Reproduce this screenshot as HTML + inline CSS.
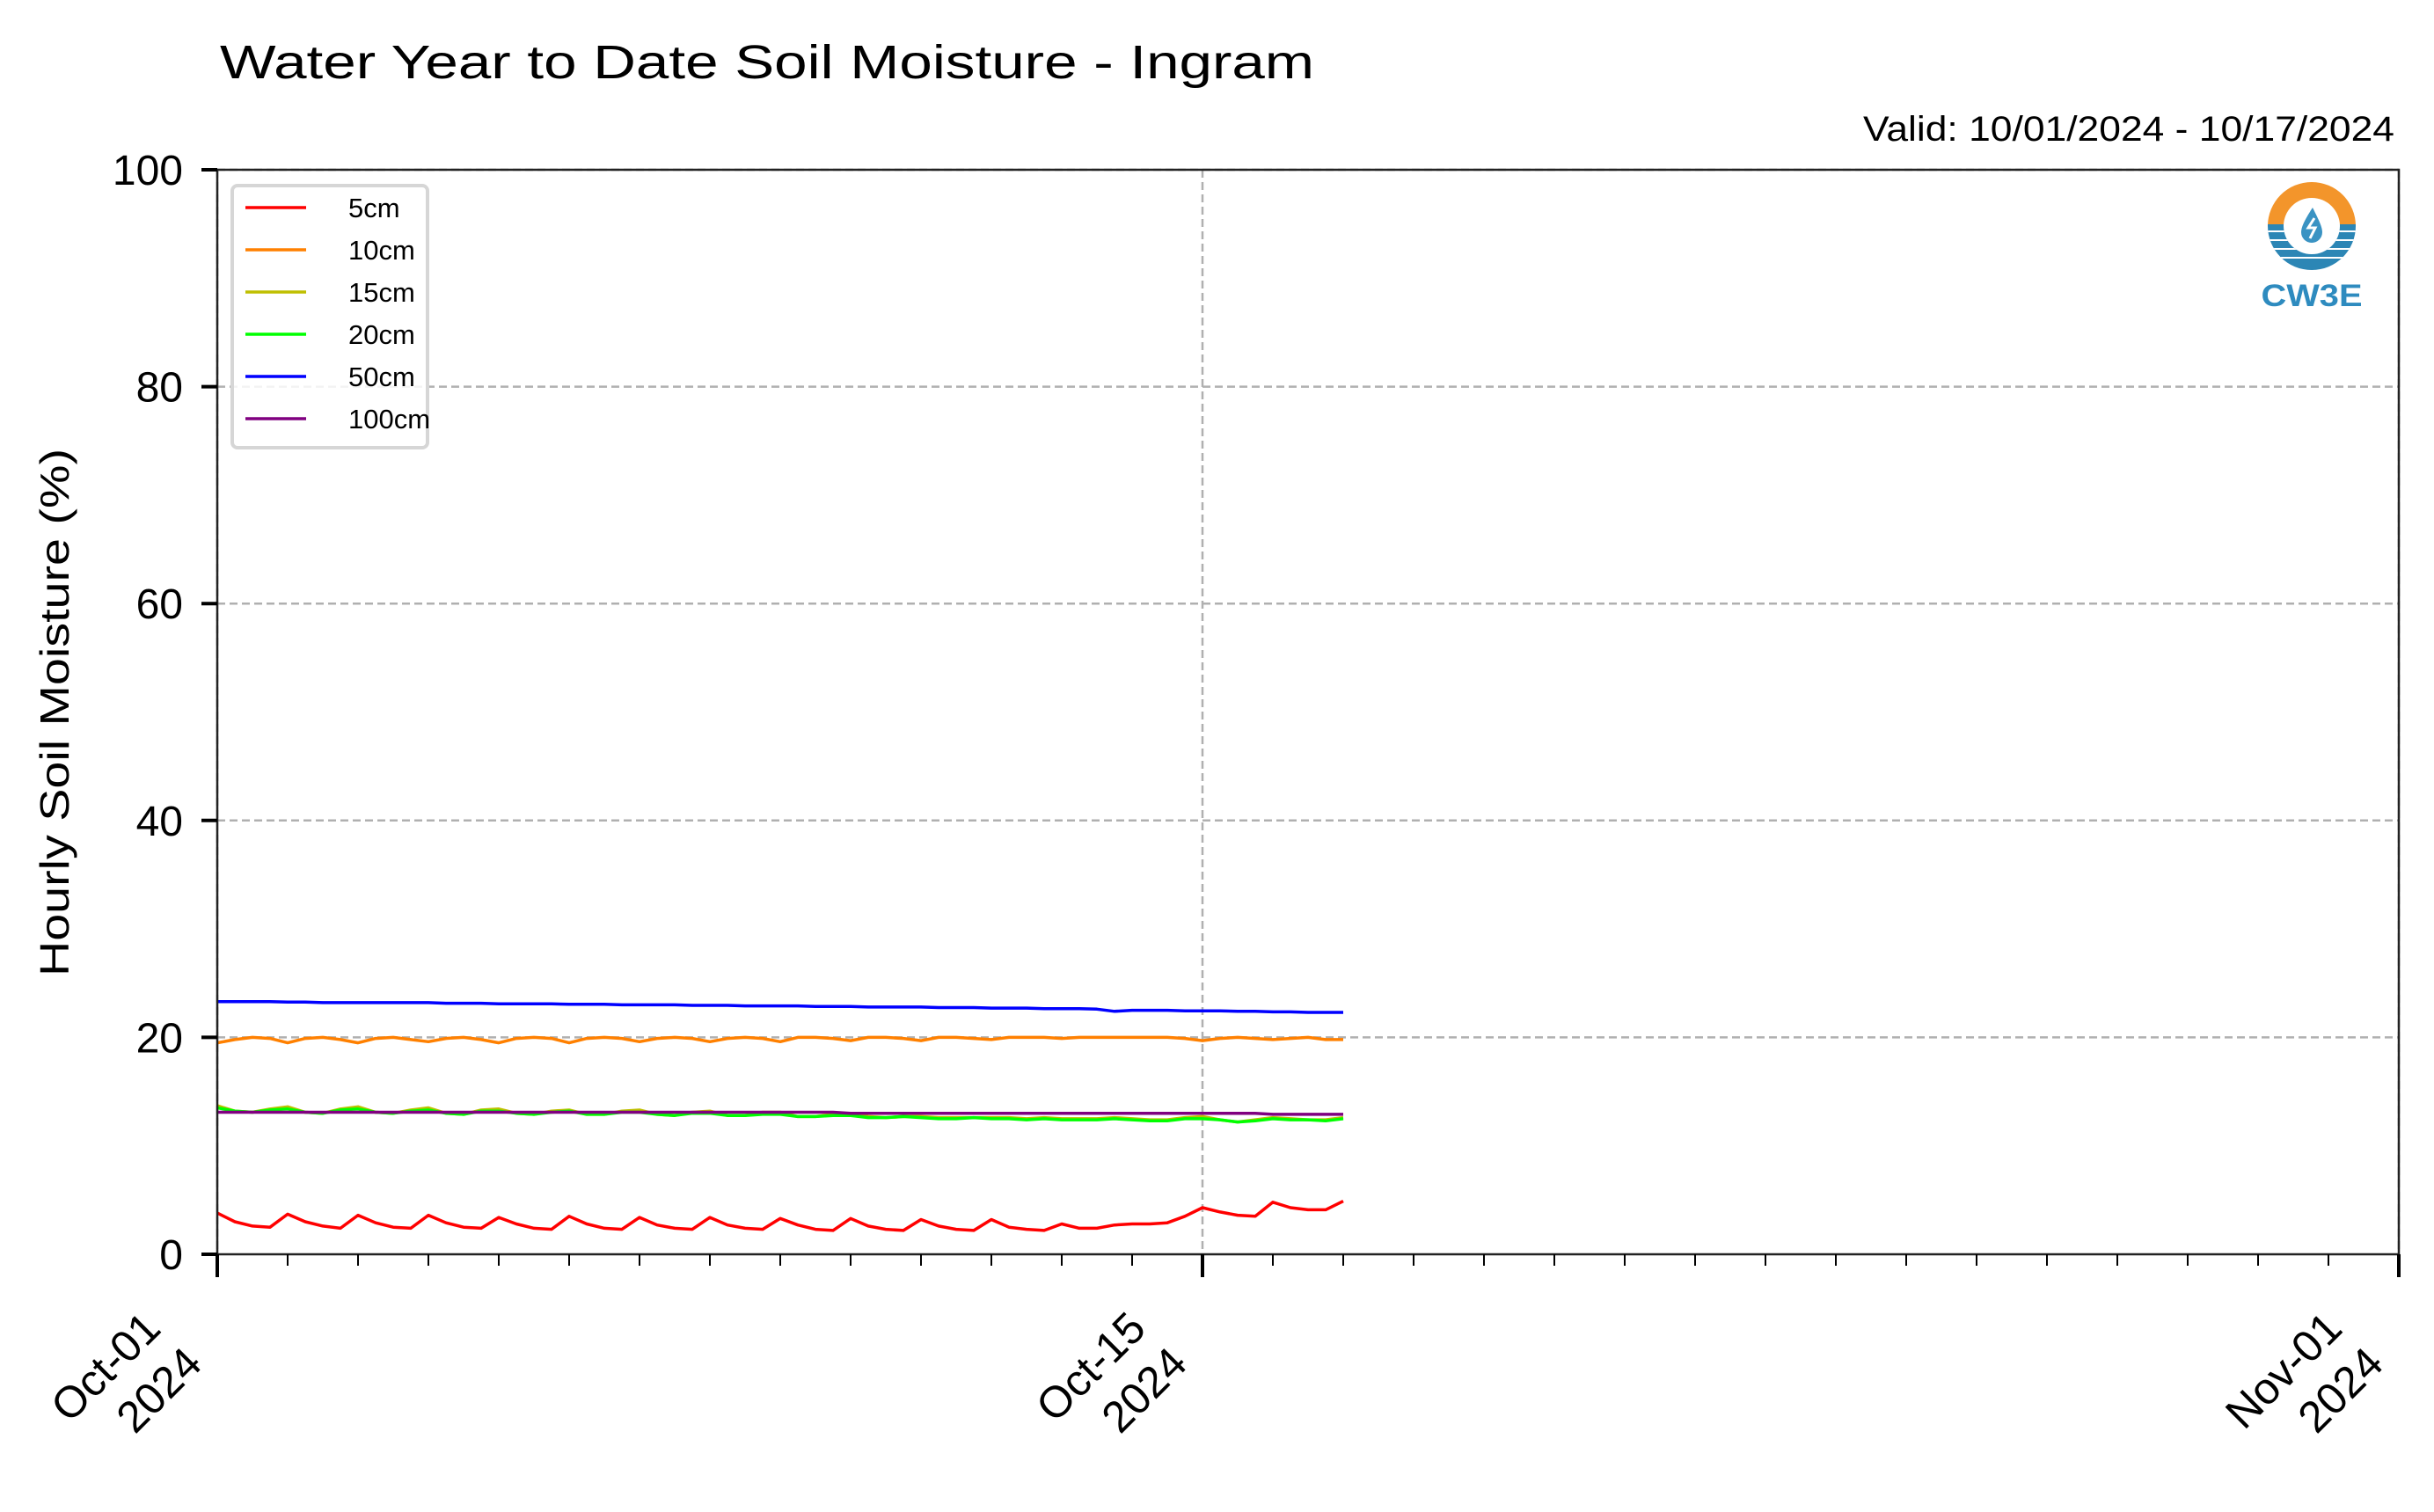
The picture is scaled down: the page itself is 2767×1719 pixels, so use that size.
<!DOCTYPE html>
<html><head><meta charset="utf-8"><title>Water Year to Date Soil Moisture - Ingram</title>
<style>html,body{margin:0;padding:0;background:#fff}svg{display:block}text{font-family:"Liberation Sans",Arial,sans-serif}</style>
</head><body>
<svg id="chart" width="2767" height="1719" viewBox="0 0 2767 1719" xmlns="http://www.w3.org/2000/svg">
<rect width="2767" height="1719" fill="#fff"/>
<text x="250" y="89" font-size="54" textLength="1244" lengthAdjust="spacingAndGlyphs">Water Year to Date Soil Moisture - Ingram</text>
<text x="2118" y="160" font-size="40" textLength="604" lengthAdjust="spacingAndGlyphs">Valid: 10/01/2024 - 10/17/2024</text>
<text transform="translate(78,810) rotate(-90)" font-size="46" text-anchor="middle" textLength="600" lengthAdjust="spacingAndGlyphs">Hourly Soil Moisture (%)</text>
<g id="grid"></g>
<g id="series"></g>
<g id="axes"></g>
<g id="legend"></g>
<g>
  <defs><clipPath id="ring"><path d="M2578,257 a50,50 0 1,0 100,0 a50,50 0 1,0 -100,0 Z M2596,257 a32,32 0 1,1 64,0 a32,32 0 1,1 -64,0 Z" clip-rule="evenodd"/></clipPath></defs>
  <g clip-path="url(#ring)">
    <rect x="2570" y="200" width="120" height="55" fill="#f3952b"/>
    <rect x="2570" y="255" width="120" height="60" fill="#2c86b5"/>
    <rect x="2570" y="262" width="120" height="2" fill="#fff"/>
    <rect x="2570" y="272" width="120" height="2" fill="#fff"/>
    <rect x="2570" y="282" width="120" height="2" fill="#fff"/>
    <rect x="2570" y="292" width="120" height="2" fill="#fff"/>
  </g>
  <path d="M2629,236 C2620,250 2616,258 2616,264 a12,12 0 0,0 24,0 C2640,258 2636,250 2629,236 Z" fill="#3a93c3"/>
  <path d="M2631,248 l-7,11 h8 l-6,12" stroke="#fff" stroke-width="3" fill="none"/>
  <text x="2628" y="348" font-size="35" font-weight="bold" fill="#2e8bbf" text-anchor="middle" textLength="115" lengthAdjust="spacingAndGlyphs">CW3E</text>
</g>
</svg>
<script>
// ---- data (6-hourly samples starting 2024-10-01 00:00) ----
const xTickLabels = ["Oct-01", "Oct-15", "Nov-01"];
const xTickDays = [0, 14, 31];
const yTicks = [0, 20, 40, 60, 80, 100];
const seriesNames = ["5cm", "10cm", "15cm", "20cm", "50cm", "100cm"];
const seriesColors = ["#ff0000", "#ff8000", "#bfbf00", "#00ff00", "#0000ff", "#800080"];
const sm5 = [3.8,3.0,2.6,2.5, 3.7,3.0,2.6,2.4, 3.6,2.9,2.5,2.4, 3.6,2.9,2.5,2.4, 3.4,2.8,2.4,2.3, 3.5,2.8,2.4,2.3, 3.4,2.7,2.4,2.3, 3.4,2.7,2.4,2.3, 3.3,2.7,2.3,2.2, 3.3,2.6,2.3,2.2, 3.2,2.6,2.3,2.2, 3.2,2.5,2.3,2.2, 2.8,2.4,2.4,2.7, 2.8,2.8,2.9,3.5, 4.3,3.9,3.6,3.5, 4.8,4.3,4.1,4.1, 4.9];
const sm10 = [19.5,19.8,20.0,19.9, 19.5,19.9,20.0,19.8, 19.5,19.9,20.0,19.8, 19.6,19.9,20.0,19.8, 19.5,19.9,20.0,19.9, 19.5,19.9,20.0,19.9, 19.6,19.9,20.0,19.9, 19.6,19.9,20.0,19.9, 19.6,20.0,20.0,19.9, 19.7,20.0,20.0,19.9, 19.7,20.0,20.0,19.9, 19.8,20.0,20.0,20.0, 19.9,20.0,20.0,20.0, 20.0,20.0,20.0,19.9, 19.7,19.9,20.0,19.9, 19.8,19.9,20.0,19.8, 19.8];
const sm15 = [13.7,13.2,13.1,13.4, 13.6,13.1,13.0,13.4, 13.6,13.1,13.0,13.3, 13.5,13.0,12.9,13.3, 13.4,13.0,12.9,13.2, 13.3,12.9,12.9,13.2, 13.3,12.9,12.8,13.1, 13.2,12.8,12.8,13.1, 13.1,12.7,12.7,12.9, 12.9,12.7,12.6,12.7, 12.7,12.6,12.6,12.6, 12.6,12.6,12.5,12.6, 12.5,12.5,12.5,12.6, 12.5,12.4,12.4,12.6, 12.7,12.4,12.2,12.4, 12.6,12.5,12.4,12.4, 12.6];
const sm20 = [13.5,13.2,13.1,13.3, 13.4,13.1,13.0,13.3, 13.4,13.1,13.0,13.2, 13.3,13.0,12.9,13.2, 13.2,13.0,12.9,13.1, 13.2,12.9,12.9,13.1, 13.1,12.9,12.8,13.0, 13.0,12.8,12.8,12.9, 12.9,12.7,12.7,12.8, 12.8,12.6,12.6,12.7, 12.6,12.5,12.5,12.6, 12.5,12.5,12.4,12.5, 12.4,12.4,12.4,12.5, 12.4,12.3,12.3,12.5, 12.5,12.4,12.2,12.3, 12.5,12.4,12.4,12.3, 12.5];
const sm50 = [23.3,23.3,23.3,23.3, 23.25,23.25,23.2,23.2, 23.2,23.2,23.2,23.2, 23.2,23.15,23.15,23.15, 23.1,23.1,23.1,23.1, 23.05,23.05,23.05,23.0, 23.0,23.0,23.0,22.95, 22.95,22.95,22.9,22.9, 22.9,22.9,22.85,22.85, 22.85,22.8,22.8,22.8, 22.8,22.75,22.75,22.75, 22.7,22.7,22.7,22.65, 22.65,22.65,22.6,22.4, 22.5,22.5,22.5,22.45, 22.45,22.45,22.4,22.4, 22.35,22.35,22.3,22.3, 22.3];
const sm100 = [13.1,13.1,13.1,13.1, 13.1,13.1,13.1,13.1, 13.1,13.1,13.1,13.1, 13.1,13.1,13.1,13.1, 13.1,13.1,13.1,13.1, 13.1,13.1,13.1,13.1, 13.1,13.1,13.1,13.1, 13.1,13.1,13.1,13.1, 13.1,13.1,13.1,13.1, 13.0,13.0,13.0,13.0, 13.0,13.0,13.0,13.0, 13.0,13.0,13.0,13.0, 13.0,13.0,13.0,13.0, 13.0,13.0,13.0,13.0, 13.0,13.0,13.0,13.0, 12.9,12.9,12.9,12.9, 12.9];
const seriesValues = [sm5, sm10, sm15, sm20, sm50, sm100];
const stepDays = 0.25;

const NS = "http://www.w3.org/2000/svg";
const L = 247, R = 2727, T = 193, B = 1426, DAYS = 31;
const xScale = d => L + (d / DAYS) * (R - L);
const yScale = v => B - (v / 100) * (B - T);
function mk(tag, attrs, parent) { const e = document.createElementNS(NS, tag); for (const k in attrs) e.setAttribute(k, attrs[k]); parent.appendChild(e); return e; }

const grid = document.getElementById("grid");
yTicks.forEach(v => {
  if (v === 0) return;
  const g = mk("line", {x1: L, x2: R, y1: yScale(v), y2: yScale(v), stroke: "#b0b0b0", "stroke-width": 2.5, "stroke-dasharray": "9,5"}, grid);
  
  
});
xTickDays.forEach((d, i) => {
  const g = mk("line", {x1: xScale(d), x2: xScale(d), y1: T, y2: B, stroke: "#b0b0b0", "stroke-width": 2.5, "stroke-dasharray": "9,5"}, grid);
  
  
});

const sg = document.getElementById("series");
seriesValues.forEach((vals, si) => {
  const pts = vals.map((v, i) => xScale(i * stepDays).toFixed(1) + "," + yScale(v).toFixed(1)).join(" ");
  const p = mk("polyline", {points: pts, fill: "none", stroke: seriesColors[si], "stroke-width": 3.5, "stroke-linejoin": "round"}, sg);
  
  
});

const ax = document.getElementById("axes");
const frame = mk("rect", {x: L, y: T, width: R - L, height: B - T, fill: "none", stroke: "#222", "stroke-width": 2.5}, ax);


yTicks.forEach(v => {
  const t = mk("line", {x1: L - 18, x2: L, y1: yScale(v), y2: yScale(v), stroke: "#000", "stroke-width": 4}, ax);
  
  
  const lb = mk("text", {x: 208, y: yScale(v) + 17, "font-size": 48, "text-anchor": "end"}, ax);
  lb.textContent = String(v);
  
  
});
for (let d = 1; d < DAYS; d++) {
  if (xTickDays.includes(d)) continue;
  const t = mk("line", {x1: xScale(d), x2: xScale(d), y1: B, y2: B + 13, stroke: "#000", "stroke-width": 2}, ax);
  
  
}
xTickDays.forEach((d, i) => {
  const x = xScale(d);
  const t = mk("line", {x1: x, x2: x, y1: B, y2: B + 26, stroke: "#000", "stroke-width": 4}, ax);
  
  
  const l1 = mk("text", {transform: "translate(" + (x - 62) + ",1513) rotate(-45)", "font-size": 50, "text-anchor": "end"}, ax);
  l1.textContent = xTickLabels[i];
  
  
  const l2 = mk("text", {transform: "translate(" + (x - 15) + ",1553) rotate(-45)", "font-size": 50, "text-anchor": "end"}, ax);
  l2.textContent = "2024";
  
  
});

const lg = document.getElementById("legend");
const box = mk("rect", {x: 264, y: 211, width: 222, height: 298, rx: 6, fill: "#fff", "fill-opacity": 0.85, stroke: "#d6d6d6", "stroke-width": 4}, lg);


seriesNames.forEach((n, i) => {
  const y = 236 + i * 48;
  const ln = mk("line", {x1: 279, x2: 348, y1: y, y2: y, stroke: seriesColors[i], "stroke-width": 3.5}, lg);
  
  
  const tx = mk("text", {x: 396, y: y + 11, "font-size": 31}, lg);
  tx.textContent = n;
  
  
});
</script>
</body></html>
